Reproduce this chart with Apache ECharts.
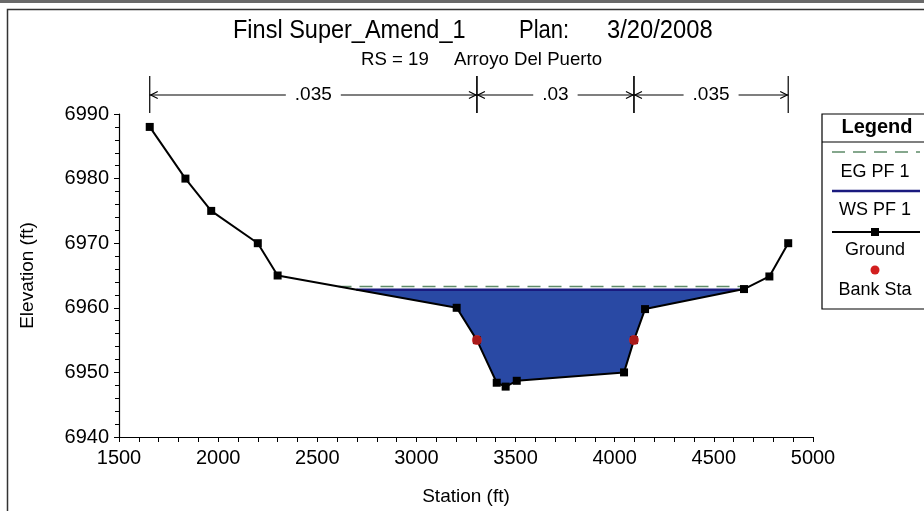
<!DOCTYPE html>
<html>
<head>
<meta charset="utf-8">
<script src="https://cdn.jsdelivr.net/npm/echarts@6/dist/echarts.min.js"></script>
<style>html,body{margin:0;padding:0;background:#fff;}#chart{width:924px;height:511px;}</style>
</head>
<body>
<div id="chart"></div>
<script>
// ---- data ----
const groundStations = [1655, 1835, 1965, 2200, 2300, 3203, 3305, 3405, 3450, 3506, 4047, 4097, 4153, 4652, 4780, 4875];
const groundElevations = [6988, 6980, 6975, 6970, 6965, 6960, 6955, 6948.4, 6947.8, 6948.7, 6950, 6955, 6959.8, 6962.9, 6964.85, 6970];
const bankStations = [3305, 4097];
const bankElevations = [6955, 6955];
const wsElevation = 6962.8;
const egElevation = 6963.3;
const nBoundaries = [1655, 3305, 4097, 4875];
const nValues = ['.035', '.03', '.035'];
const xTicks = [1500, 5000, 500];
const yTicks = [6940, 6990, 10];
const legendItems = ['EG PF 1', 'WS PF 1', 'Ground', 'Bank Sta'];

const FONT = "'Liberation Sans', Arial, sans-serif";

// crossing of a level with the ground profile (left and right)
function crossings(level) {
  let left = null, right = null, li = -1, ri = -1;
  for (let i = 0; i < groundStations.length - 1; i++) {
    const y1 = groundElevations[i], y2 = groundElevations[i + 1];
    if (left === null && y1 >= level && y2 < level) {
      left = groundStations[i] + (y1 - level) / (y1 - y2) * (groundStations[i + 1] - groundStations[i]);
      li = i + 1;
    }
    if (y1 < level && y2 >= level) {
      right = groundStations[i] + (level - y1) / (y2 - y1) * (groundStations[i + 1] - groundStations[i]);
      ri = i;
    }
  }
  return {left, right, li, ri};
}
const ws = crossings(wsElevation);
const eg = crossings(egElevation);
const waterData = [[ws.left, wsElevation]];
for (let i = ws.li; i <= ws.ri; i++) waterData.push([groundStations[i], groundElevations[i]]);
waterData.push([ws.right, wsElevation]);
const groundData = groundStations.map((s, i) => [s, groundElevations[i]]);
const bankData = bankStations.map((s, i) => [s, bankElevations[i]]);
const nData = nValues.map((v, i) => [nBoundaries[i], nBoundaries[i + 1], yTicks[1]]);

const chart = echarts.init(document.getElementById('chart'), null, {renderer: 'canvas'});

const legendX = 822, legendY = 114, cx = 875;
function titleText(x, y, text, size, sx) {
  return {type: 'text', x: x, y: y, scaleX: sx, style: {text: text, fontFamily: FONT, fontSize: size, fill: '#000', verticalAlign: 'middle'}};
}
const option = {
  backgroundColor: '#ffffff',
  animation: false,
  grid: {left: 119, right: 111, top: 114, bottom: 71},
  xAxis: {
    type: 'value', min: xTicks[0], max: xTicks[1], interval: xTicks[2],
    name: 'Station (ft)', nameLocation: 'middle', nameGap: 50,
    nameTextStyle: {fontFamily: FONT, fontSize: 19, color: '#000'},
    axisLine: {lineStyle: {color: '#000', width: 1.2}},
    axisTick: {length: 5, lineStyle: {color: '#000'}},
    minorTick: {show: true, splitNumber: 5, length: 5, lineStyle: {color: '#000'}},
    axisLabel: {fontFamily: FONT, fontSize: 20, color: '#000', margin: 11, formatter: v => String(v)},
    splitLine: {show: false}
  },
  yAxis: {
    type: 'value', min: yTicks[0], max: yTicks[1], interval: yTicks[2],
    name: 'Elevation (ft)', nameLocation: 'middle', nameGap: 82,
    nameTextStyle: {fontFamily: FONT, fontSize: 19, color: '#000'},
    axisLine: {show: true, lineStyle: {color: '#000', width: 1.2}},
    axisTick: {show: true, length: 5, lineStyle: {color: '#000'}},
    minorTick: {show: true, splitNumber: 5, length: 4, lineStyle: {color: '#000'}},
    axisLabel: {fontFamily: FONT, fontSize: 20, color: '#000', margin: 10, formatter: v => String(v)},
    splitLine: {show: false}
  },
  series: [
    {
      name: 'water', type: 'line', data: waterData, symbol: 'none',
      lineStyle: {width: 0}, areaStyle: {origin: wsElevation, color: '#2949a4', opacity: 1}, z: 2
    },
    {
      name: 'WS PF 1', type: 'line', data: [[ws.left, wsElevation], [ws.right, wsElevation]],
      symbol: 'none', lineStyle: {color: '#1a1a7e', width: 2.5}, z: 3
    },
    {
      name: 'EG PF 1', type: 'line', data: [[eg.left, egElevation], [eg.right, egElevation]],
      symbol: 'none', lineStyle: {color: '#5e8a68', width: 1.6, type: [13, 8]}, z: 3
    },
    {
      name: 'Ground', type: 'line', data: groundData, symbol: 'rect', symbolSize: 8,
      itemStyle: {color: '#000'}, lineStyle: {color: '#000', width: 2}, z: 5
    },
    {
      name: 'Bank Sta', type: 'scatter', data: bankData, symbol: 'circle', symbolSize: 10,
      itemStyle: {color: '#d21f1f'}, z: 6
    },
    {
      name: 'n', type: 'custom', clip: false, z: 7,
      data: nData, encode: {x: [0, 1], y: 2},
      renderItem: function (params, api) {
        const x1 = api.coord([api.value(0), yTicks[1]])[0];
        const x2 = api.coord([api.value(1), yTicks[1]])[0];
        const y = 95, yt = 76, yb = 113, a = 8;
        const ls = {stroke: '#000', lineWidth: 1.2, fill: null};
        return {
          type: 'group', children: [
            {type: 'line', shape: {x1: x1, y1: yt, x2: x1, y2: yb}, style: ls},
            {type: 'line', shape: {x1: x2, y1: yt, x2: x2, y2: yb}, style: ls},
            {type: 'line', shape: {x1: x1, y1: y, x2: x2, y2: y}, style: ls},
            {type: 'polyline', shape: {points: [[x1 + a, y - 3.5], [x1 + 1, y], [x1 + a, y + 3.5]]}, style: ls},
            {type: 'polyline', shape: {points: [[x2 - a, y - 3.5], [x2 - 1, y], [x2 - a, y + 3.5]]}, style: ls},
            {type: 'text', x: (x1 + x2) / 2, y: y, style: {
              text: nValues[params.dataIndex], fontFamily: FONT, fontSize: 19, fill: '#000',
              align: 'center', verticalAlign: 'middle', backgroundColor: '#fff', padding: [0, 9]
            }}
          ]
        };
      }
    }
  ],
  graphic: [
    {type: 'rect', shape: {x: 0, y: 0, width: 924, height: 3}, style: {fill: '#6a6a6a'}},
    {type: 'rect', shape: {x: 7.5, y: 9.5, width: 940, height: 540}, style: {fill: null, stroke: '#333', lineWidth: 1.5}},
    titleText(233, 31, 'Finsl Super_Amend_1', 25, 0.94),
    titleText(519, 31, 'Plan:', 25, 0.88),
    titleText(607, 31, '3/20/2008', 25, 0.95),
    titleText(361, 60, 'RS = 19', 19, 0.98),
    titleText(454, 60, 'Arroyo Del Puerto', 19, 0.98),
    // legend box
    {type: 'rect', shape: {x: legendX, y: legendY, width: 130, height: 195}, style: {fill: '#fff', stroke: '#000', lineWidth: 1.2}},
    {type: 'text', x: cx + 2, y: 127, style: {text: 'Legend', fontFamily: FONT, fontWeight: 'bold', fontSize: 20, fill: '#000', align: 'center', verticalAlign: 'middle'}},
    {type: 'line', shape: {x1: legendX, y1: 142, x2: 924, y2: 142}, style: {stroke: '#000', lineWidth: 1.2}},
    {type: 'line', shape: {x1: 832, y1: 152, x2: 920, y2: 152}, style: {stroke: '#5e8a68', lineWidth: 1.6, lineDash: [13, 8]}},
    {type: 'text', x: cx, y: 172, style: {text: legendItems[0], fontFamily: FONT, fontSize: 18, fill: '#000', align: 'center', verticalAlign: 'middle'}},
    {type: 'line', shape: {x1: 832, y1: 191, x2: 920, y2: 191}, style: {stroke: '#1a1a7e', lineWidth: 2.5}},
    {type: 'text', x: cx, y: 210, style: {text: legendItems[1], fontFamily: FONT, fontSize: 18, fill: '#000', align: 'center', verticalAlign: 'middle'}},
    {type: 'line', shape: {x1: 832, y1: 232, x2: 920, y2: 232}, style: {stroke: '#000', lineWidth: 2}},
    {type: 'rect', shape: {x: cx - 4, y: 228, width: 8, height: 8}, style: {fill: '#000'}},
    {type: 'text', x: cx, y: 250, style: {text: legendItems[2], fontFamily: FONT, fontSize: 18, fill: '#000', align: 'center', verticalAlign: 'middle'}},
    {type: 'circle', shape: {cx: cx, cy: 270, r: 4.5}, style: {fill: '#d21f1f'}},
    {type: 'text', x: cx, y: 290, style: {text: legendItems[3], fontFamily: FONT, fontSize: 18, fill: '#000', align: 'center', verticalAlign: 'middle'}}
  ]
};
chart.setOption(option);
</script>
</body>
</html>
